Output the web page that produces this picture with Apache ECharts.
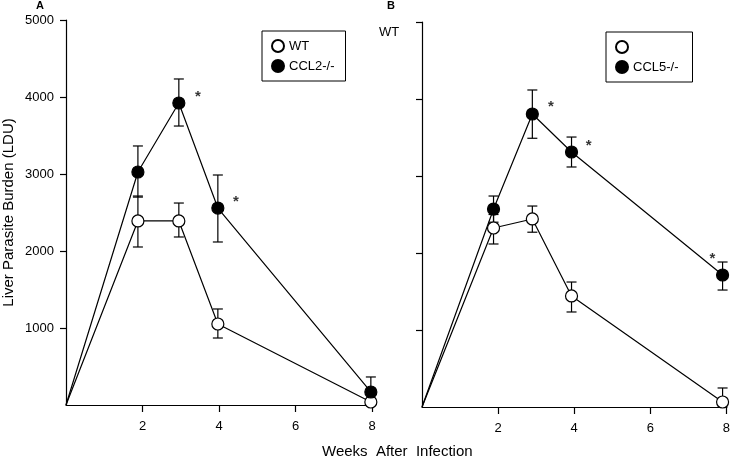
<!DOCTYPE html>
<html><head><meta charset="utf-8">
<script src="https://cdn.jsdelivr.net/npm/echarts@6/dist/echarts.min.js"></script>
<style>html,body{margin:0;padding:0;background:#fff}#c{width:733px;height:460px}</style>
</head><body><div id="c"></div>
<script>
// Panel A
const weeksA = [0, 1.88, 2.95, 3.97, 7.97];
const wtA = [0, 2390, 2390, 1052, 39];
const wtA_hi = [null, 2714, 2623, 1247, null];
const wtA_lo = [null, 2052, 2182, 870, null];
const ccl2 = [0, 3026, 3922, 2558, 169];
const ccl2_hi = [null, 3364, 4234, 2987, 364];
const ccl2_lo = [null, 2700, 3623, 2117, 0];
const starsA_x = [3.45, 4.44];
const starsA_y = [4000, 2636];
// Panel B
const weeksB = [0, 1.88, 2.9, 3.93, 7.9];
const wtB = [0, 2325, 2442, 1442, 65];
const wtB_hi = [null, 2500, 2610, 1623, 247];
const wtB_lo = [null, 2117, 2270, 1234, 0];
const ccl5 = [0, 2571, 3805, 3312, 1714];
const ccl5_hi = [null, 2740, 4117, 3506, 1883];
const ccl5_lo = [null, 2400, 3490, 3117, 1519];
const starsB_x = [3.39, 4.38, 7.63];
const starsB_y = [3896, 3390, 1922];
const xTicks = [2, 4, 6, 8];
const yTicks = [1000, 2000, 3000, 4000, 5000];

const FONT = 'Liberation Sans';
const chart = echarts.init(document.getElementById('c'));

function pts(xs, ys){ return xs.map((x,i)=>[x, ys[i]]); }
function errs(xs, lo, hi){
  const out=[];
  xs.forEach((x,i)=>{ if(hi[i]!=null) out.push([x, lo[i], hi[i]]); });
  return out;
}
function errSeries(idx, data){
  return {
    type:'custom', xAxisIndex:idx, yAxisIndex:idx, z:1, silent:true,
    data,
    renderItem(params, api){
      const x = api.value(0);
      const lo = api.coord([x, api.value(1)]);
      const hi = api.coord([x, api.value(2)]);
      const w = 5;
      const st = {stroke:'#000', lineWidth:1.2};
      return {type:'group', children:[
        {type:'line', shape:{x1:lo[0], y1:lo[1], x2:hi[0], y2:hi[1]}, style:st},
        {type:'line', shape:{x1:hi[0]-w, y1:hi[1], x2:hi[0]+w, y2:hi[1]}, style:st},
        {type:'line', shape:{x1:lo[0]-w, y1:lo[1], x2:lo[0]+w, y2:lo[1]}, style:st}
      ]};
    }
  };
}
function lineSeries(idx, name, data, filled){
  return {
    type:'line', name, xAxisIndex:idx, yAxisIndex:idx, z:3,
    data: data.map((d,i)=> i===0 ? {value:d, symbol:'none'} : d),
    symbol:'circle', symbolSize:12, showSymbol:true,
    lineStyle:{color:'#000', width:1.2},
    itemStyle:{color: filled ? '#000' : '#fff', borderColor:'#000', borderWidth:1.2},
    emphasis:{disabled:true}, animation:false
  };
}
function starSeries(idx, data){
  return {
    type:'scatter', xAxisIndex:idx, yAxisIndex:idx, z:4, symbolSize:1,
    itemStyle:{color:'rgba(0,0,0,0)'},
    label:{show:true, position:'inside', formatter:'*', fontSize:15, fontFamily:FONT, color:'#000', fontWeight:'bold'},
    data
  };
}
const xAx = (gi)=>({
  type:'value', gridIndex:gi, min:0, max:8,
  axisLine:{lineStyle:{color:'#000', width:1.2}},
  axisTick:{customValues:xTicks, length:7, lineStyle:{color:'#000', width:1.2}},
  axisLabel:{customValues:xTicks, margin:15, fontSize:13, fontFamily:FONT, color:'#000'},
  splitLine:{show:false}
});
const yAx = (gi, labels)=>({
  type:'value', gridIndex:gi, min:0, max:5000,
  axisLine:{show:true, lineStyle:{color:'#000', width:1.2}},
  axisTick:{show:true, customValues:yTicks, length:6, lineStyle:{color:'#000', width:1.2}},
  axisLabel:{show:labels, customValues:yTicks, margin:12, fontSize:13, fontFamily:FONT, color:'#000',
             formatter:(v)=>String(v)},
  splitLine:{show:false}
});
const yA = yAx(0, true);
yA.name = 'Liver Parasite Burden (LDU)';
yA.nameLocation = 'middle';
yA.nameGap = 50;
yA.nameTextStyle = {fontSize:15, fontFamily:FONT, color:'#000'};

const option = {
  animation:false,
  backgroundColor:'#fff',
  grid:[
    {left:66, right:361, top:20, bottom:55},
    {left:422, right:4, top:22, bottom:53}
  ],
  xAxis:[xAx(0), xAx(1)],
  yAxis:[yA, yAx(1, false)],
  legend:[
    {data:[{name:'WT', icon:'circle'},{name:'CCL2-/-', icon:'circle'}],
     orient:'vertical', left:262, top:31, padding:[8,11,8,9], itemGap:6,
     itemWidth:12, itemHeight:12, borderColor:'#000', borderWidth:1,
     selectedMode:false, textStyle:{fontSize:13, fontFamily:FONT, color:'#000'}},
    {data:[{name:'WT', icon:'circle'},{name:'CCL5-/-', icon:'circle'}],
     orient:'vertical', left:606, top:32, padding:[8,14,8,9], itemGap:6,
     itemWidth:12, itemHeight:12, borderColor:'#000', borderWidth:1,
     selectedMode:false, formatter:(n)=> n==='WT' ? '         ' : n,
     textStyle:{fontSize:13, fontFamily:FONT, color:'#000'}}
  ],
  series:[
    errSeries(0, errs(weeksA, wtA_lo, wtA_hi)),
    errSeries(0, errs(weeksA, ccl2_lo, ccl2_hi)),
    lineSeries(0, 'WT', pts(weeksA, wtA), false),
    lineSeries(0, 'CCL2-/-', pts(weeksA, ccl2), true),
    starSeries(0, pts(starsA_x, starsA_y)),
    errSeries(1, errs(weeksB, wtB_lo, wtB_hi)),
    errSeries(1, errs(weeksB, ccl5_lo, ccl5_hi)),
    lineSeries(1, 'WT', pts(weeksB, wtB), false),
    lineSeries(1, 'CCL5-/-', pts(weeksB, ccl5), true),
    starSeries(1, pts(starsB_x, starsB_y))
  ],
  graphic:[
    {type:'text', left:36, top:0, style:{text:'A', fontSize:11, fontWeight:'bold', fontFamily:FONT, fill:'#000'}},
    {type:'text', left:387, top:0, style:{text:'B', fontSize:11, fontWeight:'bold', fontFamily:FONT, fill:'#000'}},
    {type:'text', left:379, top:26, style:{text:'WT', fontSize:13, fontFamily:FONT, fill:'#000'}},
    {type:'text', left:322, top:444, style:{text:'Weeks  After  Infection', fontSize:15, fontFamily:FONT, fill:'#000'}}
  ]
};
chart.setOption(option);
</script></body></html>
